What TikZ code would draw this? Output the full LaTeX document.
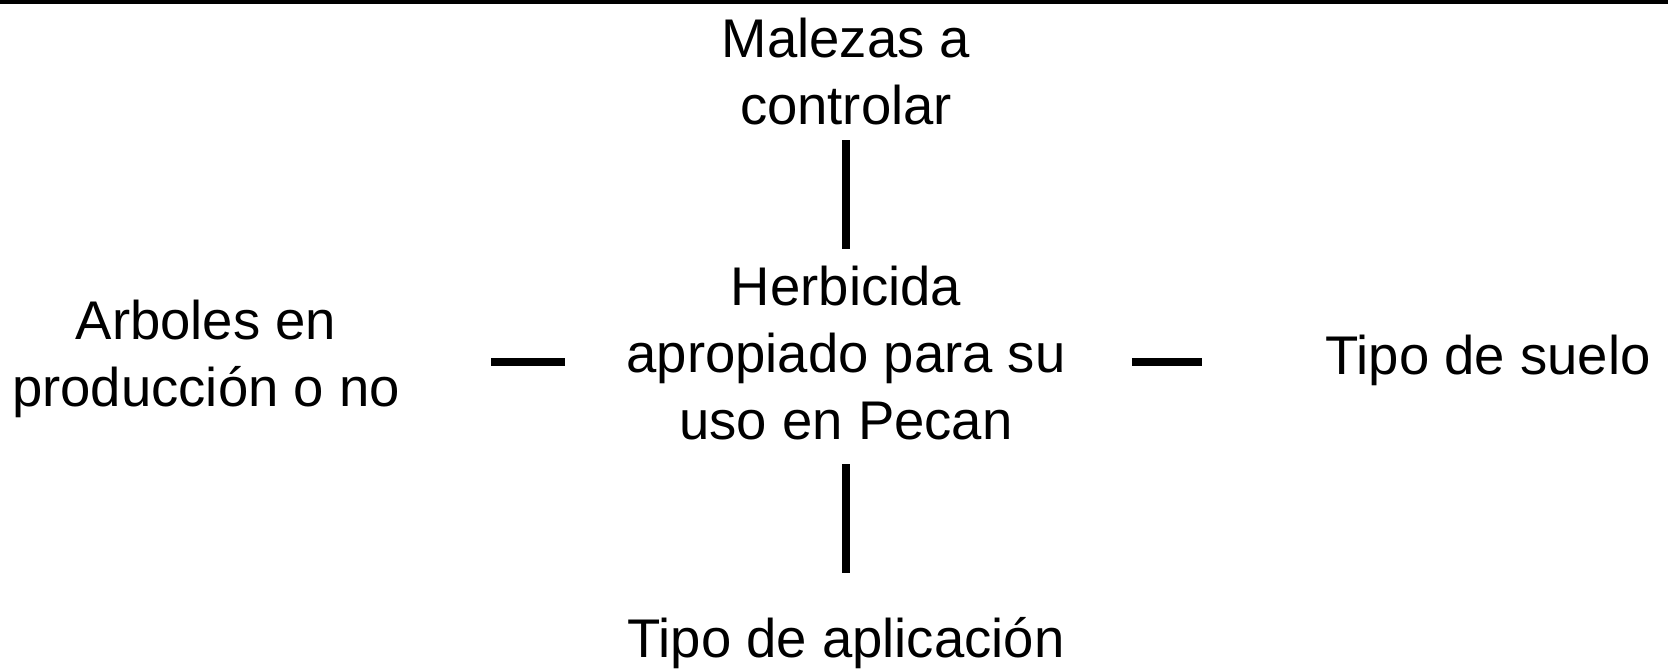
\documentclass[tikz,border=0pt]{standalone}
\usepackage{fontspec}
\setmainfont{Liberation Sans}
\begin{document}
\begin{tikzpicture}[
    lbl/.style={align=center, anchor=base, font=\fontsize{31}{38.1}\selectfont},
    conn/.style={line width=0.16cm}
  ]
    \useasboundingbox (0,0) rectangle (33.36,-13.42);

    % raya de arriba
    \draw[line width=0.07cm] (0,-0.035) -- (33.36,-0.035);

    \node[lbl] (mal) at (16.92,-2.48) {Malezas a\\controlar};
    \node[lbl] (herb) at (16.92,-8.78) {Herbicida\\apropiado para su\\uso en Pecan};
    \node[lbl] (arb) at (4.12,-8.12) {Arboles en\\producción o no};
    \node[lbl] (suelo) at (29.76,-7.48) {Tipo de suelo};
    \node[lbl] (apl) at (16.92,-13.14) {Tipo de aplicación};

    \draw[conn, shorten <=0.19cm, shorten >=0.21cm] (mal.south) -- (herb.north);
    \draw[conn, shorten <=0.37cm, shorten >=0.76cm] (herb.south) -- (apl.north);
    \draw[conn, shorten <=1.7cm, shorten >=1.1cm] ([yshift=-0.04cm]arb.east |- suelo) -- ([yshift=-0.04cm]herb.west |- suelo);
    \draw[conn, shorten <=1.2cm, shorten >=2.34cm] ([yshift=-0.04cm]herb.east |- suelo) -- ([yshift=-0.04cm]suelo.west);
\end{tikzpicture}
\end{document}
